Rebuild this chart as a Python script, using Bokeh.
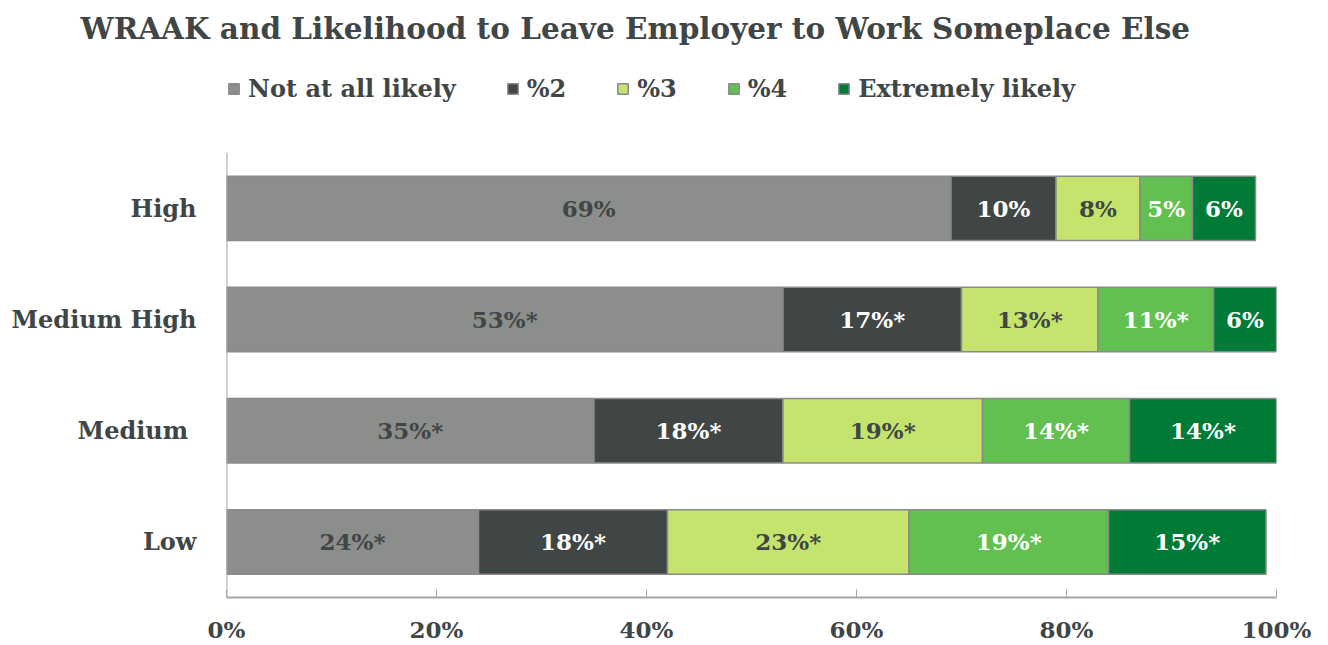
from bokeh.plotting import figure
from bokeh.models import ColumnDataSource, Range1d, Legend, LegendItem, FixedTicker
from bokeh.core.properties import value
from bokeh.embed import file_html
from bokeh.resources import INLINE

categories = ["Low", "Medium ", "Medium High", "High"]
series = ["Not at all likely", "%2", "%3", "%4", "Extremely likely"]
not_at_all = [24, 35, 53, 69]
s2 = [18, 18, 17, 10]
s3 = [23, 19, 13, 8]
s4 = [19, 14, 11, 5]
extremely = [15, 14, 6, 6]
labels = {
    "Not at all likely": ["24%*", "35%*", "53%*", "69%"],
    "%2": ["18%*", "18%*", "17%*", "10%"],
    "%3": ["23%*", "19%*", "13%*", "8%"],
    "%4": ["19%*", "14%*", "11%*", "5%"],
    "Extremely likely": ["15%*", "14%*", "6%", "6%"],
}
x_ticks = [0, 20, 40, 60, 80, 100]
x_tick_labels = ["0%", "20%", "40%", "60%", "80%", "100%"]
colors = ["#8c8e8c", "#404545", "#c5e46e", "#62c050", "#007a37"]
text_colors = ["#404545", "#ffffff", "#404545", "#ffffff", "#ffffff"]

FONT = "DejaVu Serif"
DARK = "#404545"
AXIS = "#a6a6a6"

ypos = list(range(len(categories)))
data = {"y": ypos}
vals = [not_at_all, s2, s3, s4, extremely]
for name, v in zip(series, vals):
    data[name] = v
src = ColumnDataSource(data)

n = len(categories)
# frame extends above the top band to hold the legend (legend is clipped to frame)
p = figure(width=1328, height=645,
           y_range=Range1d(-0.5, n - 0.5 + 0.92),
           x_range=Range1d(0, 100), output_backend="svg", toolbar_location=None,
           min_border_left=226, min_border_right=52, min_border_bottom=48, min_border_top=50)
p.outline_line_color = None
p.grid.grid_line_color = None

rs = p.hbar_stack(series, y="y", height=0.58, source=src,
                  color=colors, line_color="#8a8a8a", line_width=1.5)

cum = [0] * n
for i, name in enumerate(series):
    v = vals[i]
    mids = [(c + x / 2) for c, x in zip(cum, v)]
    cum = [c + x for c, x in zip(cum, v)]
    lsrc = ColumnDataSource(dict(x=mids, y=ypos, t=labels[name]))
    p.text(x="x", y="y", text="t", source=lsrc, text_align="center", text_baseline="middle",
           text_font=value(FONT), text_font_style="bold", text_font_size="23px",
           text_color=text_colors[i])

# vertical category axis line spanning only the category bands
p.segment(x0=[0], y0=[-0.5], x1=[0], y1=[n - 0.5], line_color=AXIS, line_width=2)

p.xaxis.ticker = FixedTicker(ticks=x_ticks)
p.xaxis.major_label_overrides = {t: l for t, l in zip(x_ticks, x_tick_labels)}
p.xaxis.major_tick_in = 8
p.xaxis.major_tick_out = 0
p.xaxis.minor_tick_line_color = None
p.xaxis.axis_line_color = AXIS
p.xaxis.major_tick_line_color = AXIS
p.xaxis.axis_line_width = 2
p.xaxis.major_label_standoff = 18

p.yaxis.ticker = FixedTicker(ticks=ypos)
p.yaxis.major_label_overrides = {y: c for y, c in zip(ypos, categories)}
for ax in (p.xaxis, p.yaxis):
    ax.major_label_text_font = FONT
    ax.major_label_text_font_style = "bold"
    ax.major_label_text_color = DARK
p.xaxis.major_label_text_font_size = "23px"
p.yaxis.major_label_text_font_size = "24px"
p.yaxis.major_tick_line_color = None
p.yaxis.minor_tick_line_color = None
p.yaxis.axis_line_color = None
p.yaxis.major_label_standoff = 24

legend = Legend(items=[LegendItem(label=name, renderers=[r]) for name, r in zip(series, rs)],
                orientation="horizontal", location=(1, 494),
                label_text_font=FONT, label_text_font_style="bold", label_text_font_size="24px",
                label_text_color=DARK, glyph_width=13, glyph_height=13, label_standoff=8,
                spacing=50, border_line_color=None, background_fill_alpha=0,
                margin=0, padding=0, label_height=26)
p.add_layout(legend, "center")

p.title.text = "WRAAK and Likelihood to Leave Employer to Work Someplace Else"
p.title.text_font = FONT
p.title.text_font_style = "bold"
p.title.text_font_size = "29.5px"
p.title.text_color = DARK
p.title.align = "left"
p.title.offset = -146
p.title.standoff = 10

open("out.html", "w").write(file_html(p, INLINE))
